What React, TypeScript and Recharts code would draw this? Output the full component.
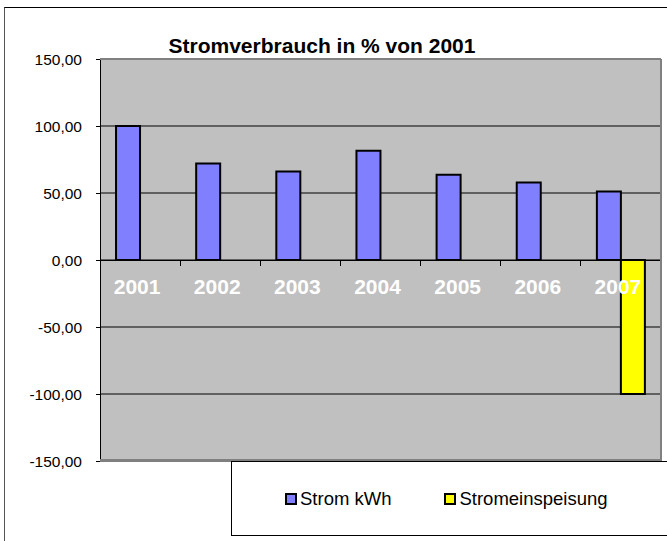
import { BarChart, Bar, XAxis, YAxis, CartesianGrid, ReferenceLine, Legend } from 'recharts';

const years = ['2001', '2002', '2003', '2004', '2005', '2006', '2007'];
const stromKwh = [100, 72, 66, 81.6, 63.7, 57.9, 51.2];
const stromeinspeisung = [null, null, null, null, null, null, -100];
const yTicks = [-150, -100, -50, 0, 50, 100, 150];

const data = years.map((year, i) => ({
  year,
  strom: stromKwh[i],
  einspeisung: stromeinspeisung[i],
}));

const FONT = '"Liberation Sans", Arial, Helvetica, sans-serif';

const fmt = (v: number) => v.toFixed(2).replace('.', ',');

// year labels + small ticks sit on the zero line, inside the plot
function YearLabels(props: any) {
  const { x, y, width } = props.viewBox;
  const band = width / years.length;
  return (
    <g>
      {years.map((yr, i) => (
        <line
          key={'t' + yr}
          x1={x + band * (i + 1)}
          x2={x + band * (i + 1)}
          y1={y}
          y2={y + 6}
          stroke="#000"
          shapeRendering="crispEdges"
        />
      ))}
      {years.map((yr, i) => (
        <text
          key={yr}
          x={x + band * (i + 0.5) - 3}
          y={y + 34}
          textAnchor="middle"
          fill="#fff"
          fontSize={21}
          fontWeight="bold"
          fontFamily={FONT}
        >
          {yr}
        </text>
      ))}
    </g>
  );
}

function LegendBox(props: any) {
  const items = props.payload || [];
  return (
    <div style={{ display: 'flex', alignItems: 'center', height: '100%', paddingLeft: 53, gap: 53, fontFamily: FONT, fontSize: 18.5, color: '#000' }}>
      {items.map((it: any) => (
        <div key={it.value} style={{ display: 'flex', alignItems: 'center' }}>
          <span style={{ display: 'inline-block', width: 12, height: 12, boxSizing: 'border-box', border: '2px solid #000', background: it.color, marginRight: 3 }} />
          <span>{it.value}</span>
        </div>
      ))}
    </div>
  );
}

export default function App() {
  return (
    <div style={{ position: 'absolute', left: 0, top: 0, width: 667, height: 541, background: '#fff', overflow: 'hidden' }}>
      <div style={{ position: 'absolute', left: 4, top: 7, width: 700, height: 600, borderTop: '1px solid #000', borderLeft: '1px solid #555' }} />
      <div
        style={{
          position: 'absolute', left: 122, top: 35, width: 400, textAlign: 'center',
          fontFamily: FONT, fontWeight: 'bold', fontSize: 21, lineHeight: '21px', color: '#000',
        }}
      >
        Stromverbrauch in % von 2001
      </div>
      <div style={{ position: 'absolute', left: 0, top: 0 }}>
        <BarChart
          width={667}
          height={541}
          data={data}
          margin={{ top: 59, right: 6, bottom: 80, left: 0 }}
          barCategoryGap="20%"
          barGap={0}
        >
          <CartesianGrid
            vertical={false}
            horizontal={{ stroke: '#000', shapeRendering: 'crispEdges' } as any}
            stroke="#000"
            fill="#C0C0C0"
            fillOpacity={1}
          />
          <XAxis dataKey="year" hide />
          <YAxis
            domain={[-150, 150]}
            ticks={yTicks}
            interval={0}
            tickFormatter={fmt}
            width={100}
            axisLine={{ stroke: '#000', shapeRendering: 'crispEdges' } as any}
            tickLine={{ stroke: '#000', shapeRendering: 'crispEdges' } as any}
            tickSize={4}
            tickMargin={14}
            tick={{ fill: '#000', fontSize: 15.5, fontFamily: FONT }}
          />
          <Bar dataKey="strom" name="Strom kWh" fill="#8080FF" stroke="#000" strokeWidth={2} isAnimationActive={false} />
          <Bar dataKey="einspeisung" name="Stromeinspeisung" fill="#FFFF00" stroke="#000" strokeWidth={2} isAnimationActive={false} />
          <ReferenceLine y={0} stroke="#000" shapeRendering="crispEdges" label={YearLabels} />
          <Legend
            layout="vertical"
            align="center"
            verticalAlign="middle"
            content={LegendBox}
            wrapperStyle={{ left: 231, top: 461, width: 440, height: 75, boxSizing: 'border-box', border: '1px solid #000', background: '#fff' }}
          />
        </BarChart>
      </div>
      <div
        style={{
          position: 'absolute', left: 100, top: 59, width: 562, height: 402, boxSizing: 'border-box',
          borderTop: '1px solid #808080', borderRight: '2px solid #808080', borderBottom: '2px solid #808080', pointerEvents: 'none',
        }}
      />
    </div>
  );
}
